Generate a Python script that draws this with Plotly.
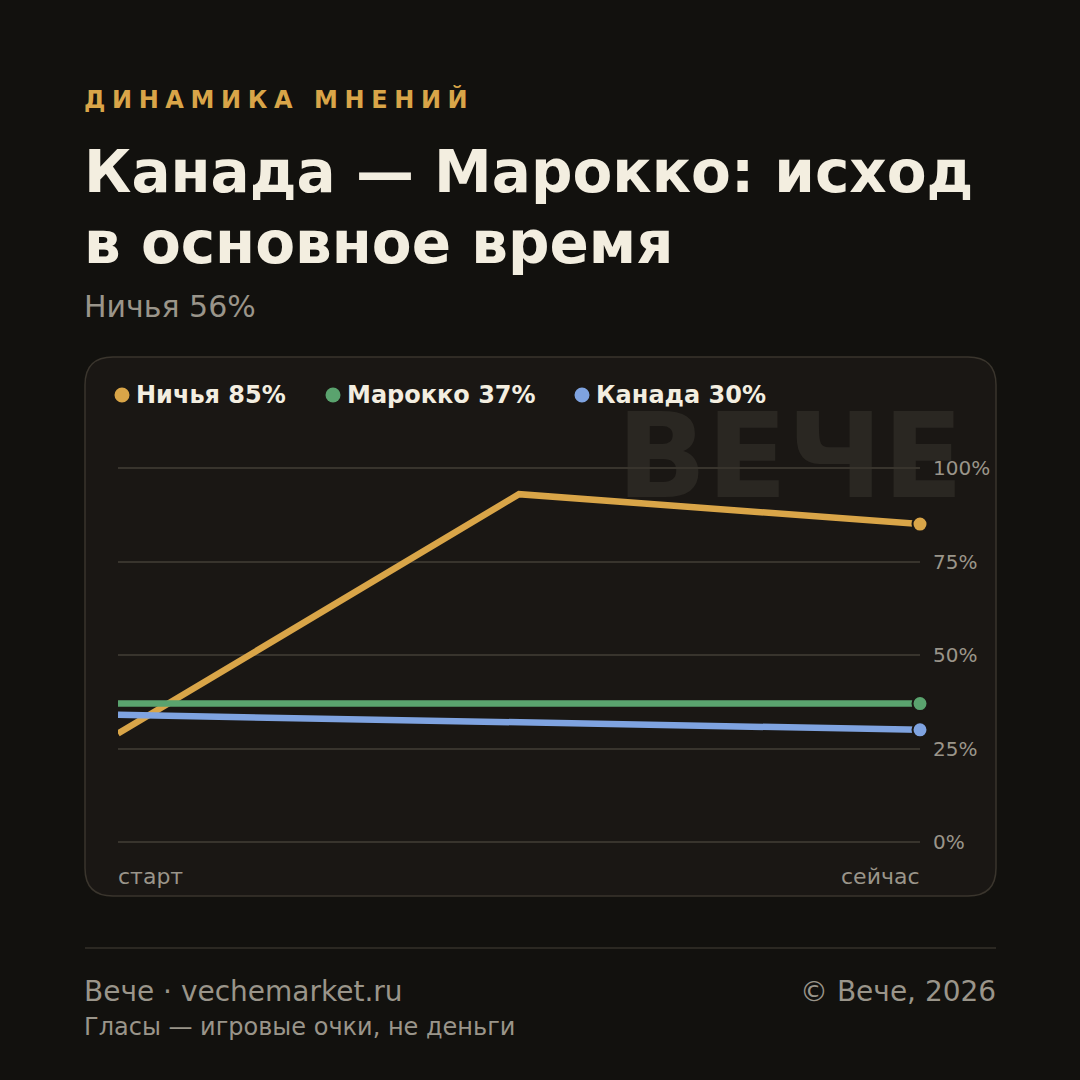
import plotly.graph_objects as go

# ---- data ----
x_labels = ["старт", "сейчас"]
x_pos = [0, 0.5, 1]
series_names = ["Ничья", "Марокко", "Канада"]
draw_vals = [29, 93, 85]
morocco_vals = [37, 37, 37]
canada_vals = [34, 32, 30]
y_ticks = [0, 25, 50, 75, 100]
y_tick_labels = ["0%", "25%", "50%", "75%", "100%"]
kicker = "ДИНАМИКА МНЕНИЙ"
title_lines = ["Канада — Марокко: исход", "в основное время"]
subtitle = "Ничья 56%"
watermark = "ВЕЧЕ"
footer_left = "Вече · vechemarket.ru"
footer_right = "© Вече, 2026"
footer_note = "Гласы — игровые очки, не деньги"

# ---- style ----
W = H = 1080
BG = "#12110e"
CARD = "#1a1714"
CARD_BORDER = "#3a352d"
GRID = "#38342d"
CREAM = "#f3eee0"
GRAY = "#9a958a"
GOLD = "#d9a548"
colors = ["#d9a548", "#5aa36e", "#7fa3e0"]
FONT = "DejaVu Sans"


def px(x):
    return x / W


def py(y):
    return 1 - y / H


# plot area in pixels
PL, PR = 118, 920
Y0PX, Y100PX = 842, 468
unit = (Y0PX - Y100PX) / 100
ymin, ymax = -5, 105
ybot = Y0PX + 5 * unit
ytop = Y100PX - 5 * unit

fig = go.Figure()
all_vals = [draw_vals, morocco_vals, canada_vals]
for name, vals, c in zip(series_names, all_vals, colors):
    fig.add_trace(go.Scatter(
        x=x_pos, y=vals, mode="lines", name=name,
        line=dict(color=c, width=6.5), cliponaxis=False, showlegend=False,
        hoverinfo="skip"))
for name, vals, c in zip(series_names, all_vals, colors):
    fig.add_trace(go.Scatter(
        x=[x_pos[-1]], y=[vals[-1]], mode="markers", name=name,
        marker=dict(color=c, size=15, line=dict(color=CARD, width=2)),
        cliponaxis=False, showlegend=False, hoverinfo="skip"))

shapes = []
# card
x0, x1, y0, y1, r = px(85), px(996), py(357), py(896), 28 / W
path = (f"M {x0+r},{y0} L {x1-r},{y0} Q {x1},{y0} {x1},{y0-r} "
        f"L {x1},{y1+r} Q {x1},{y1} {x1-r},{y1} L {x0+r},{y1} "
        f"Q {x0},{y1} {x0},{y1+r} L {x0},{y0-r} Q {x0},{y0} {x0+r},{y0} Z")
shapes.append(dict(type="path", path=path, xref="paper", yref="paper",
                   fillcolor=CARD, line=dict(color=CARD_BORDER, width=1.5),
                   layer="below"))
# watermark
shapes.append(dict(type="rect", xref="paper", yref="paper",
                   x0=px(600), x1=px(980), y0=py(508), y1=py(388),
                   line=dict(width=0), fillcolor="rgba(0,0,0,0)", layer="below",
                   label=dict(text=f"<b>{watermark}</b>", font=dict(family=FONT, size=118, color="#2a2722"),
                              textposition="middle center")))
# footer divider
shapes.append(dict(type="line", xref="paper", yref="paper",
                   x0=px(85), x1=px(996), y0=py(948), y1=py(948),
                   line=dict(color="#34302a", width=1.5)))

anns = []


def txt(text, x, y, size, color, xanchor="left", bold=False, yanchor="middle"):
    if bold:
        text = f"<b>{text}</b>"
    anns.append(dict(text=text, x=px(x), y=py(y), xref="paper", yref="paper",
                     xanchor=xanchor, yanchor=yanchor, showarrow=False,
                     font=dict(family=FONT, size=size, color=color)))


txt(f'<span style="letter-spacing:6.6px">{kicker}</span>', 82, 100, 24, GOLD, bold=True)
txt(title_lines[0], 82, 172, 58, CREAM, bold=True)
txt(title_lines[1], 82, 243, 58, CREAM, bold=True)
txt(subtitle, 82, 306, 30, GRAY)

# legend
dot_x = [122, 333, 582]
for name, vals, c, dx in zip(series_names, all_vals, colors, dot_x):
    shapes.append(dict(type="circle", xref="paper", yref="paper",
                       x0=px(dx - 7.5), x1=px(dx + 7.5), y0=py(395 - 7.5), y1=py(395 + 7.5),
                       fillcolor=c, line=dict(width=0)))
    txt(f"{name} {vals[-1]}%", dx + 12, 395, 24, CREAM, bold=True)

# x labels
txt(x_labels[0], PL - 2, 876, 22, GRAY)
txt(x_labels[1], PR + 2, 876, 22, GRAY, xanchor="right")

# footer
txt(footer_left, 82, 991, 28, GRAY)
txt(footer_right, 998, 991, 28, GRAY, xanchor="right")
txt(footer_note, 82, 1027, 24, GRAY)

fig.update_layout(
    width=W, height=H, margin=dict(l=0, r=0, t=0, b=0),
    paper_bgcolor=BG, plot_bgcolor="rgba(0,0,0,0)",
    shapes=shapes, annotations=anns, showlegend=False,
    xaxis=dict(domain=[PL / W, PR / W], range=[0, 1], showgrid=False,
               zeroline=False, showticklabels=False, fixedrange=True),
    yaxis=dict(domain=[1 - ybot / H, 1 - ytop / H], range=[ymin, ymax],
               side="right", tickvals=y_ticks, ticktext=y_tick_labels,
               showgrid=True, gridcolor=GRID, gridwidth=2, zeroline=False,
               ticks="", ticklabelstandoff=12,
               tickfont=dict(family=FONT, size=20, color=GRAY), fixedrange=True),
)

fig.write_html("out.html", config={"displayModeBar": False})
